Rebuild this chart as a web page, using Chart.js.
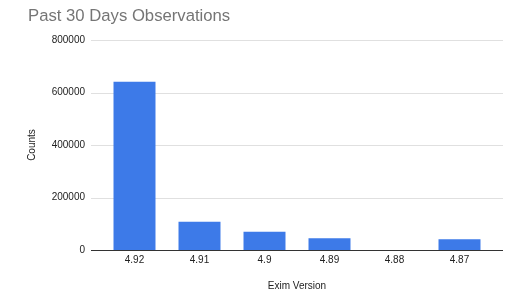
<!DOCTYPE html>
<html>
<head>
<meta charset="utf-8">
<script src="https://cdn.jsdelivr.net/npm/chart.js@4"></script>
<style>
html,body{margin:0;padding:0;background:#fff;}
#wrap{width:515px;height:300px;position:relative;}
</style>
</head>
<body>
<div id="wrap"><canvas id="c" width="515" height="300"></canvas></div>
<script>
const categories = ["4.92", "4.91", "4.9", "4.89", "4.88", "4.87"];
const counts = [641000, 108000, 70000, 44500, 0, 40500];
const yTicks = [0, 200000, 400000, 600000, 800000];
const chartTitle = "Past 30 Days Observations";
const xTitle = "Exim Version";
const yTitle = "Counts";

const FONT = "'Liberation Sans', Arial, sans-serif";

const gridPlugin = {
  id: 'extGrid',
  beforeDatasetsDraw(chart) {
    const {ctx, chartArea, scales} = chart;
    const y = scales.y;
    ctx.save();
    y.ticks.forEach(t => {
      const py = Math.round(y.getPixelForValue(t.value)) + 0.5;
      ctx.beginPath();
      ctx.strokeStyle = t.value === 0 ? '#333333' : '#e0e0e0';
      ctx.lineWidth = 1;
      ctx.moveTo(chartArea.left - 11, py);
      ctx.lineTo(chartArea.right + 11, py);
      ctx.stroke();
    });
    ctx.restore();
  }
};

new Chart(document.getElementById('c'), {
  type: 'bar',
  data: {
    labels: categories,
    datasets: [{
      data: counts,
      backgroundColor: '#3d7ae8',
      barPercentage: 0.646,
      categoryPercentage: 1.0
    }]
  },
  options: {
    responsive: false,
    animation: false,
    devicePixelRatio: 1,
    layout: { padding: { left: 28, right: 23, top: 0, bottom: 0 } },
    plugins: {
      legend: { display: false },
      tooltip: { enabled: false },
      title: {
        display: true,
        text: chartTitle,
        align: 'start',
        color: '#757575',
        font: { family: FONT, size: 16.7, weight: 'normal', lineHeight: 1.2 },
        padding: { top: 6, bottom: 14 }
      }
    },
    scales: {
      x: {
        grid: { display: false, drawTicks: false },
        border: { display: false },
        ticks: { color: '#222222', font: { family: FONT, size: 10 }, padding: 4, maxRotation: 0 },
        title: { display: true, text: xTitle, color: '#222222', font: { family: FONT, size: 10 }, padding: { top: 0, bottom: 8 } },
        afterFit(s) { s.height = 50; }
      },
      y: {
        min: 0,
        max: 800000,
        afterBuildTicks(s) { s.ticks = yTicks.map(v => ({ value: v })); },
        grid: { display: false, drawTicks: false },
        border: { display: false },
        ticks: { color: '#222222', font: { family: FONT, size: 10 }, padding: 17, callback: v => String(v) },
        title: { display: true, text: yTitle, color: '#222222', font: { family: FONT, size: 10 }, padding: { top: -2, bottom: 0 } },
        afterFit(s) { s.width = 74; }
      }
    }
  },
  plugins: [gridPlugin]
});
</script>
</body>
</html>
